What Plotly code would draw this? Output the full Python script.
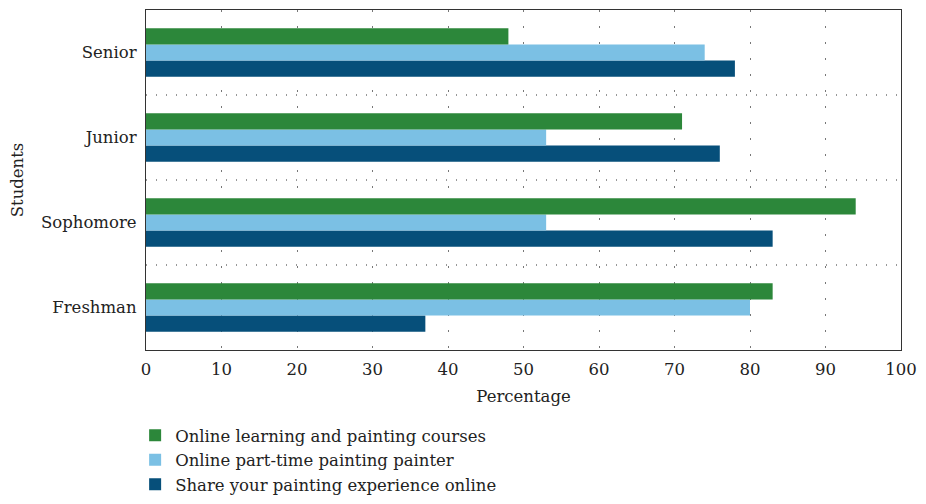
import plotly.graph_objects as go

categories = ["Freshman", "Sophomore", "Junior", "Senior"]
learning_courses = [83, 94, 71, 48]
part_time_painter = [80, 53, 53, 74]
share_experience = [37, 83, 76, 78]

series_names = [
    "Online learning and painting courses",
    "Online part-time painting painter",
    "Share your painting experience online",
]
colors = ["#2c873a", "#7bc0e4", "#064f7a"]
x_ticks = [0, 10, 20, 30, 40, 50, 60, 70, 80, 90, 100]

FONT = "DejaVu Serif, Liberation Serif, serif"
TXT = "#222222"

fig = go.Figure()
# plotly stacks horizontal grouped bars bottom-to-top in trace order
for name, vals, col in reversed(list(zip(series_names,
                                         [learning_courses, part_time_painter, share_experience],
                                         colors))):
    fig.add_trace(go.Bar(y=categories, x=vals, name=name, orientation="h",
                         marker=dict(color=col, line=dict(width=0))))

for b in [0.5, 1.5, 2.5]:
    fig.add_shape(type="line", xref="paper", yref="y", x0=0, x1=1, y0=b, y1=b,
                  line=dict(color="#777777", width=1.3, dash="1px,9px"), layer="below")

# page body has an 8px margin; keep the height inside the window to avoid a scrollbar
fig.update_layout(
    width=918, height=488,
    margin=dict(l=138, r=25, t=2, b=146, autoexpand=False),
    paper_bgcolor="white", plot_bgcolor="white",
    barmode="group", bargap=0.43, bargroupgap=0,
    font=dict(family=FONT, size=16.5, color=TXT),
    showlegend=True,
    legend=dict(orientation="v", x=-0.0144, y=-0.2, xanchor="left", yanchor="top",
                traceorder="reversed", font=dict(family=FONT, size=16.5, color=TXT),
                itemsizing="constant", tracegroupgap=0, bgcolor="rgba(0,0,0,0)"),
)
fig.update_xaxes(range=[0, 100], tickvals=x_ticks, showgrid=True, automargin=False,
                 gridcolor="#777777", gridwidth=1.3, griddash="2px,14px",
                 showline=True, linecolor="#333333", linewidth=1.2, mirror=True,
                 ticks="", zeroline=False, ticklabelstandoff=4, ticklabeloverflow="allow",
                 title=dict(text="Percentage", standoff=12, font=dict(family=FONT, size=16.5)),
                 tickfont=dict(family=FONT, size=16.5))
fig.update_yaxes(categoryorder="array", categoryarray=categories, showgrid=False,
                 automargin=False,
                 showline=True, linecolor="#333333", linewidth=1.2, mirror=True,
                 ticks="", ticklabelstandoff=5,
                 title=dict(text="Students", standoff=13, font=dict(family=FONT, size=16.5)),
                 tickfont=dict(family=FONT, size=16.5))

fig.write_html("out.html")
